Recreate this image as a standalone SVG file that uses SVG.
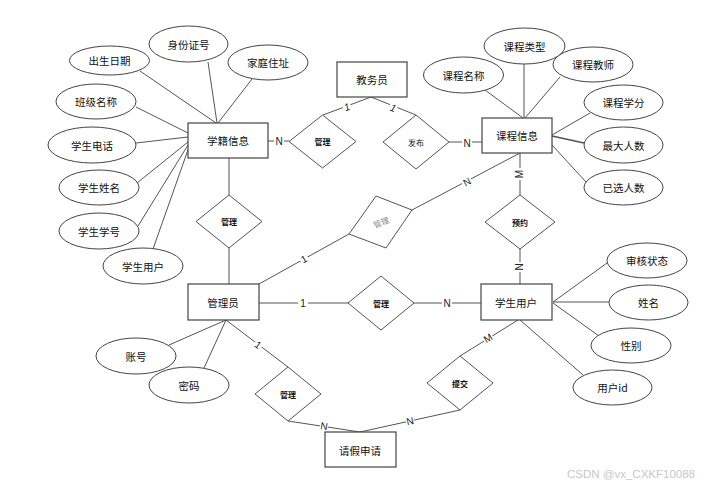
<svg xmlns="http://www.w3.org/2000/svg" width="715" height="487" viewBox="0 0 715 487">
<style>
.ent{fill:#fff;stroke:#444;stroke-width:1.2}
.att{fill:#fff;stroke:#444;stroke-width:1}
.rel{fill:#fff;stroke:#555;stroke-width:1}
.ln{stroke:#555;stroke-width:1;fill:none}
.t{font-family:"Noto Sans CJK SC","Liberation Sans",sans-serif;font-size:10.5px;fill:#111;text-anchor:middle;dominant-baseline:central}
.rt{font-family:"Noto Sans CJK SC","Liberation Sans",sans-serif;font-size:8px;font-weight:bold;fill:#111;text-anchor:middle;dominant-baseline:central}
.rn{font-weight:normal}
.lb{font-family:"Liberation Sans",sans-serif;font-size:10px;fill:#222;text-anchor:middle;dominant-baseline:central}
.lbg{fill:#fff}
.wm{font-family:"Liberation Sans",sans-serif;font-size:11.5px;fill:#c8c8c8}
</style>
<rect width="715" height="487" fill="#fff"/>
<g id="connectors">
<line class="ln" x1="140" y1="71" x2="216" y2="123"/>
<line class="ln" x1="208" y1="62" x2="217" y2="123"/>
<line class="ln" x1="252" y1="79" x2="218" y2="123"/>
<line class="ln" x1="136" y1="107" x2="188" y2="133"/>
<line class="ln" x1="136" y1="143" x2="188" y2="137"/>
<line class="ln" x1="137" y1="183" x2="188" y2="142"/>
<line class="ln" x1="138" y1="226" x2="188" y2="145"/>
<line class="ln" x1="153" y1="249" x2="189" y2="147"/>
<line class="ln" x1="268" y1="141" x2="289" y2="141"/>
<line class="ln" x1="323" y1="115" x2="371" y2="97"/>
<line class="ln" x1="371" y1="97" x2="416" y2="115"/>
<line class="ln" x1="449" y1="142" x2="482" y2="142"/>
<line class="ln" x1="485" y1="90" x2="523" y2="118"/>
<line class="ln" x1="524" y1="64" x2="524" y2="118"/>
<line class="ln" x1="560" y1="77" x2="525" y2="118"/>
<line class="ln" x1="590" y1="113" x2="552" y2="135"/>
<line class="ln" x1="584" y1="143" x2="552" y2="136" style="stroke-width:1.6"/>
<line class="ln" x1="586" y1="182" x2="552" y2="145"/>
<line class="ln" x1="520" y1="153" x2="520" y2="195"/>
<line class="ln" x1="520" y1="249" x2="520" y2="284"/>
<line class="ln" x1="520" y1="153" x2="412" y2="210"/>
<line class="ln" x1="349" y1="234" x2="259" y2="284"/>
<line class="ln" x1="229" y1="158" x2="229" y2="195"/>
<line class="ln" x1="229" y1="248" x2="229" y2="284"/>
<line class="ln" x1="259" y1="303" x2="348" y2="303"/>
<line class="ln" x1="414" y1="303" x2="481" y2="303"/>
<line class="ln" x1="553" y1="302" x2="607" y2="263"/>
<line class="ln" x1="553" y1="302" x2="609" y2="302"/>
<line class="ln" x1="553" y1="303" x2="599" y2="336"/>
<line class="ln" x1="520" y1="320" x2="583" y2="375"/>
<line class="ln" x1="518" y1="320" x2="460" y2="356"/>
<line class="ln" x1="226" y1="320" x2="169" y2="345"/>
<line class="ln" x1="226" y1="320" x2="204" y2="368"/>
<line class="ln" x1="226" y1="320" x2="288" y2="367"/>
<line class="ln" x1="288" y1="421" x2="360" y2="432"/>
<line class="ln" x1="360" y1="432" x2="460" y2="410"/>
<g id="labels">
<rect class="lbg" x="274" y="134" width="10" height="13"/><text class="lb" x="279" y="141">N</text>
<g transform="translate(347,107) rotate(-20)"><rect class="lbg" x="-4" y="-6" width="8" height="12"/><text class="lb" x="0" y="0" font-style="italic">1</text></g>
<g transform="translate(393,108) rotate(21)"><rect class="lbg" x="-4" y="-6" width="8" height="12"/><text class="lb" x="0" y="0" font-style="italic">1</text></g>
<rect class="lbg" x="462" y="136" width="10" height="13"/><text class="lb" x="467" y="143">N</text>
<g transform="translate(519,174) rotate(-90)"><rect class="lbg" x="-6" y="-6" width="12" height="12"/><text class="lb" x="0" y="0">M</text></g>
<g transform="translate(519,267) rotate(-90)"><rect class="lbg" x="-5" y="-6" width="10" height="12"/><text class="lb" x="0" y="0">N</text></g>
<g transform="translate(467,182) rotate(-28)"><rect class="lbg" x="-5" y="-6" width="10" height="12"/><text class="lb" x="0" y="0">N</text></g>
<g transform="translate(304,259) rotate(-29)"><rect class="lbg" x="-4" y="-6" width="8" height="12"/><text class="lb" x="0" y="0">1</text></g>
<rect class="lbg" x="298" y="296" width="10" height="13"/><text class="lb" x="303" y="303">1</text>
<rect class="lbg" x="442" y="296" width="10" height="13"/><text class="lb" x="447" y="303">N</text>
<g transform="translate(258,345) rotate(37)"><rect class="lbg" x="-4" y="-6" width="8" height="12"/><text class="lb" x="0" y="0" font-size="9">1</text></g>
<g transform="translate(324,426) rotate(9)"><rect class="lbg" x="-4" y="-5" width="8" height="10"/><text class="lb" x="0" y="0" font-size="8">N</text></g>
<g transform="translate(410,421) rotate(-12)"><rect class="lbg" x="-4" y="-5" width="8" height="10"/><text class="lb" x="0" y="0" font-size="8">N</text></g>
<g transform="translate(488,338) rotate(-31)"><rect class="lbg" x="-5" y="-5" width="10" height="10"/><text class="lb" x="0" y="0" font-size="8">M</text></g>
</g>
</g>
<g id="e-xueji"><rect class="ent" x="188" y="123" width="80" height="35"/><text class="t" x="228" y="140">学籍信息</text></g>
<g id="e-jiaowu"><rect class="ent" x="337" y="62" width="70" height="35"/><text class="t" x="372" y="79">教务员</text></g>
<g id="e-kecheng"><rect class="ent" x="482" y="118" width="70" height="35"/><text class="t" x="517" y="135">课程信息</text></g>
<g id="e-guanli"><rect class="ent" x="188" y="284" width="71" height="36"/><text class="t" x="223" y="302">管理员</text></g>
<g id="e-xuesheng"><rect class="ent" x="481" y="284" width="71" height="36"/><text class="t" x="516" y="302">学生用户</text></g>
<g id="e-qingjia"><rect class="ent" x="325" y="432" width="71" height="35"/><text class="t" x="360" y="450">请假申请</text></g>
<g id="a-csrq"><ellipse class="att" cx="109.5" cy="60.5" rx="40" ry="14.5"/><text class="t" x="109.5" y="60.5">出生日期</text></g>
<g id="a-sfzh"><ellipse class="att" cx="188.5" cy="44" rx="39.5" ry="18"/><text class="t" x="188.5" y="44">身份证号</text></g>
<g id="a-jtzz"><ellipse class="att" cx="268" cy="62.5" rx="40" ry="17.5"/><text class="t" x="268" y="62.5">家庭住址</text></g>
<g id="a-bjmc"><ellipse class="att" cx="96" cy="101.5" rx="40" ry="17.5"/><text class="t" x="96" y="101.5">班级名称</text></g>
<g id="a-xsdh"><ellipse class="att" cx="92" cy="145" rx="44" ry="18"/><text class="t" x="92" y="145">学生电话</text></g>
<g id="a-xsxm"><ellipse class="att" cx="99" cy="187.5" rx="40" ry="17.5"/><text class="t" x="99" y="187.5">学生姓名</text></g>
<g id="a-xsxh"><ellipse class="att" cx="99" cy="231" rx="40" ry="18"/><text class="t" x="99" y="231">学生学号</text></g>
<g id="a-xsyh"><ellipse class="att" cx="143" cy="266" rx="40" ry="18"/><text class="t" x="143" y="266">学生用户</text></g>
<g id="a-kclx"><ellipse class="att" cx="524.5" cy="46" rx="40.5" ry="18"/><text class="t" x="524.5" y="46">课程类型</text></g>
<g id="a-kcmc"><ellipse class="att" cx="463.5" cy="75" rx="40" ry="18"/><text class="t" x="463.5" y="75">课程名称</text></g>
<g id="a-kcjs"><ellipse class="att" cx="593" cy="64.5" rx="40" ry="17.5"/><text class="t" x="593" y="64.5">课程教师</text></g>
<g id="a-kcxf"><ellipse class="att" cx="623.5" cy="102.5" rx="39.5" ry="17.5"/><text class="t" x="623.5" y="102.5">课程学分</text></g>
<g id="a-zdrs"><ellipse class="att" cx="623.5" cy="145" rx="39.5" ry="18"/><text class="t" x="623.5" y="145">最大人数</text></g>
<g id="a-yxrs"><ellipse class="att" cx="623.5" cy="187.5" rx="39.5" ry="17.5"/><text class="t" x="623.5" y="187.5">已选人数</text></g>
<g id="a-shzt"><ellipse class="att" cx="647" cy="260.5" rx="40" ry="17.5"/><text class="t" x="647" y="260.5">审核状态</text></g>
<g id="a-xm"><ellipse class="att" cx="648.5" cy="302.5" rx="39.5" ry="17.5"/><text class="t" x="648.5" y="302.5">姓名</text></g>
<g id="a-xb"><ellipse class="att" cx="631" cy="345.5" rx="40" ry="17.5"/><text class="t" x="631" y="345.5">性别</text></g>
<g id="a-yhid"><ellipse class="att" cx="612.5" cy="387.5" rx="39.5" ry="17.5"/><text class="t" x="612.5" y="387.5">用户id</text></g>
<g id="a-zh"><ellipse class="att" cx="136" cy="356" rx="40" ry="18"/><text class="t" x="136" y="356">账号</text></g>
<g id="a-mm"><ellipse class="att" cx="189" cy="385" rx="40" ry="18"/><text class="t" x="189" y="385">密码</text></g>
<g id="r-guanli1"><polygon class="rel" points="322.5,115 356,141.5 322.5,168 289,141.5"/><text class="rt" x="322.5" y="141.5">管理</text></g>
<g id="r-fabu"><polygon class="rel" points="416,115 449,142 416,169 383,142"/><text class="rt rn" x="416" y="142">发布</text></g>
<g id="r-guanli2"><polygon class="rel" points="229,195 262,221.5 229,248 196,221.5"/><text class="rt" x="229" y="221.5">管理</text></g>
<g id="r-guanli3"><polygon class="rel" points="376,196 412,210 386,248 349,234"/><text class="rt rn" x="381" y="222" transform="rotate(-21 381 222)" style="fill:#888">管理</text></g>
<g id="r-yuyue"><polygon class="rel" points="520,195 555,222 520,249 485,222"/><text class="rt" x="520" y="222">预约</text></g>
<g id="r-guanli4"><polygon class="rel" points="381,276 414,303 381,330 348,303"/><text class="rt" x="381" y="303">管理</text></g>
<g id="r-guanli5"><polygon class="rel" points="288,367 321,394 288,421 255,394"/><text class="rt" x="288" y="394">管理</text></g>
<g id="r-tijiao"><polygon class="rel" points="460,356 493,383 460,410 427,383"/><text class="rt" x="460" y="383">提交</text></g>
<text class="wm" x="567" y="478">CSDN @vx_CXKF10088</text>
</svg>
